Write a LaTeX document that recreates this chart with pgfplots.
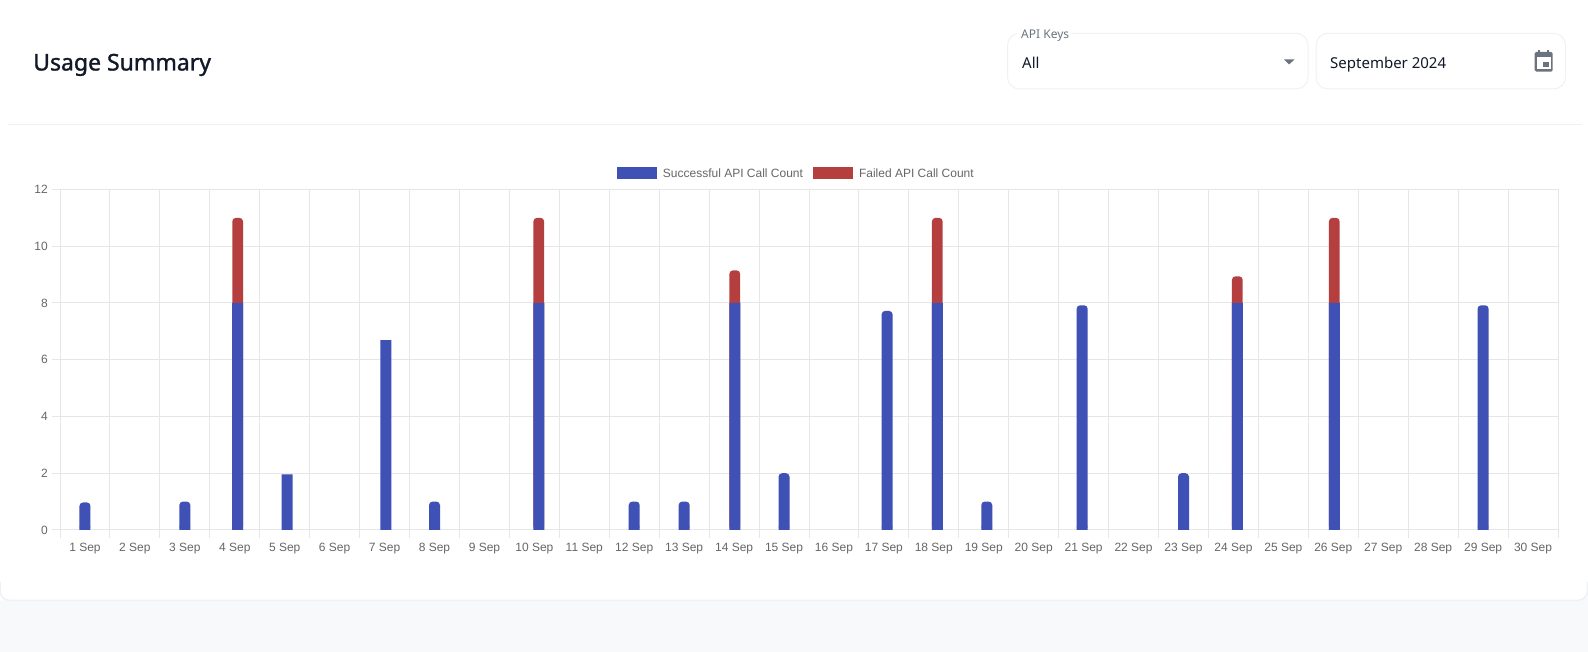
\documentclass[border=0pt]{standalone}
\usepackage{fontspec}
\usepackage{pgfplots}
\pgfplotsset{compat=1.18}
\setmainfont{Liberation Sans}
\newfontfamily\uifont{Noto Sans}
\newfontfamily\titlefont[FakeBold=1.2]{Noto Sans}

\definecolor{okblue}{HTML}{3F51B5}
\definecolor{failred}{HTML}{B53F3F}
\definecolor{gridgray}{HTML}{E6E6E6}
\definecolor{ticktext}{HTML}{666666}
\definecolor{pagebg}{HTML}{F8F9FB}
\definecolor{cardline}{HTML}{EFF1F5}
\definecolor{uigray}{HTML}{6B7280}
\definecolor{uidark}{HTML}{111827}

\begin{document}
\begin{tikzpicture}[x=1pt,y=1pt]
  \path[use as bounding box] (0,0) rectangle (1588,652);

  % page and card
  \fill[pagebg] (0,0) rectangle (1588,652);
  \fill[white,rounded corners=10pt] (-20,672) rectangle (1588,51.5);
  \draw[cardline,line width=1.5pt,rounded corners=10pt] (0,70) -- (0,51.5) -- (1587.5,51.5) -- (1587.5,70);
  \draw[cardline,line width=1pt] (8,527) -- (1582,527);

  % header
  \node[anchor=base west,inner sep=0pt,text=uidark] at (33,581.5)
    {\titlefont\fontsize{23}{28}\selectfont Usage Summary};
  \draw[cardline,line width=1pt,rounded corners=12pt] (1007.5,618.7) rectangle (1308,563);
  \draw[cardline,line width=1pt,rounded corners=12pt] (1316,618.7) rectangle (1565.5,563);
  \fill[white] (1017,616) rectangle (1071,621);
  \node[anchor=base west,inner sep=0pt,text=uigray] at (1021,613)
    {\uifont\fontsize{12}{14}\selectfont API Keys};
  \node[anchor=base west,inner sep=0pt,text=uidark] at (1022,583.5)
    {\uifont\fontsize{15}{18}\selectfont All};
  \fill[uigray] (1284,592.7) -- (1294.5,592.7) -- (1289.2,587.5) -- cycle;
  \node[anchor=base west,inner sep=0pt,text=uidark] at (1330,583.5)
    {\uifont\fontsize{15}{18}\selectfont September 2024};
  % calendar icon
  \fill[uigray,rounded corners=1.5pt] (1534.7,600) rectangle (1552.7,580.3);
  \fill[uigray] (1538,602) rectangle (1540,598);
  \fill[uigray] (1547.3,602) rectangle (1549.3,598);
  \fill[white] (1536.7,594.7) rectangle (1550.7,582.7);
  \fill[uigray] (1543.2,590.3) rectangle (1549,584.7);

  \begin{axis}[
      at={(60pt,122pt)},
      anchor=south west,
      scale only axis,
      width=1498pt,
      height=340.5pt,
      ybar,
      bar width=11pt,
      bar shift=0pt,
      xmin=0.5,xmax=30.5,
      ymin=0,ymax=12,
      xtick={1,2,...,30},
      xticklabels={1 Sep,2 Sep,3 Sep,4 Sep,5 Sep,6 Sep,7 Sep,8 Sep,9 Sep,10 Sep,
        11 Sep,12 Sep,13 Sep,14 Sep,15 Sep,16 Sep,17 Sep,18 Sep,19 Sep,20 Sep,
        21 Sep,22 Sep,23 Sep,24 Sep,25 Sep,26 Sep,27 Sep,28 Sep,29 Sep,30 Sep},
      minor xtick={0.5,1.5,...,30.5},
      ytick={0,2,...,12},
      xminorgrids,
      ymajorgrids,
      grid style={gridgray,line width=1pt},
      minor grid style={gridgray,line width=1pt},
      axis line style={gridgray,line width=1pt},
      tick align=outside,
      tick pos=left,
      major tick length=8pt,
      minor tick length=8pt,
      tick style={gridgray,line width=1pt},
      major x tick style={draw=none},
      ticklabel style={text=ticktext,font=\fontsize{12}{14}\selectfont},
      /pgf/number format/assume math mode=true,
      xticklabel style={inner sep=0pt,anchor=base,yshift=-14pt},
      yticklabel style={inner sep=0pt,xshift=-4pt},
      legend style={
        at={(0.3718,1.025)},anchor=south west,
        draw=none,fill=none,inner sep=0pt,outer sep=0pt,
        font=\fontsize{12}{14}\selectfont,text=ticktext,
        legend columns=-1,
        /tikz/every odd column/.append style={column sep=4pt},
        /tikz/every even column/.append style={column sep=8pt},
      },
      legend image code/.code={
        \fill[#1,rounded corners=0pt] (0pt,-5pt) rectangle (40pt,7pt);
      },
    ]
    % days with only successful calls, rounded top
    \addplot[fill=okblue,draw=none,rounded corners=3.5pt] coordinates {
      (1,0.97) (3,1) (8,1) (12,1) (13,1) (15,2) (17.064,7.72) (19.06,1)
      (20.97,7.92) (23,2) (29,7.92)
    };
    \addlegendentry{Successful API Call Count}
    % top of the stack on days with failed calls
    \addplot[fill=failred,draw=none,rounded corners=3.5pt,bar width=10.7pt] coordinates {
      (4.058,11) (10.088,11) (14.014,9.15) (18.07,11) (24.078,8.94) (26.02,11)
    };
    \addlegendentry{Failed API Call Count}
    % square topped blue bars
    \addplot[fill=okblue,draw=none,forget plot] coordinates {
      (4.058,8) (5.05,1.96) (7.024,6.69) (10.088,8) (14.014,8) (18.07,8)
      (24.078,8) (26.02,8)
    };
    % squares off the foot of the rounded bars
    \addplot[fill=okblue,draw=none,forget plot] coordinates {
      (1,0.13) (3,0.13) (8,0.13) (12,0.13) (13,0.13) (15,0.13) (17.064,0.13)
      (19.06,0.13) (20.97,0.13) (23,0.13) (29,0.13)
    };
  \end{axis}
\end{tikzpicture}
\end{document}
